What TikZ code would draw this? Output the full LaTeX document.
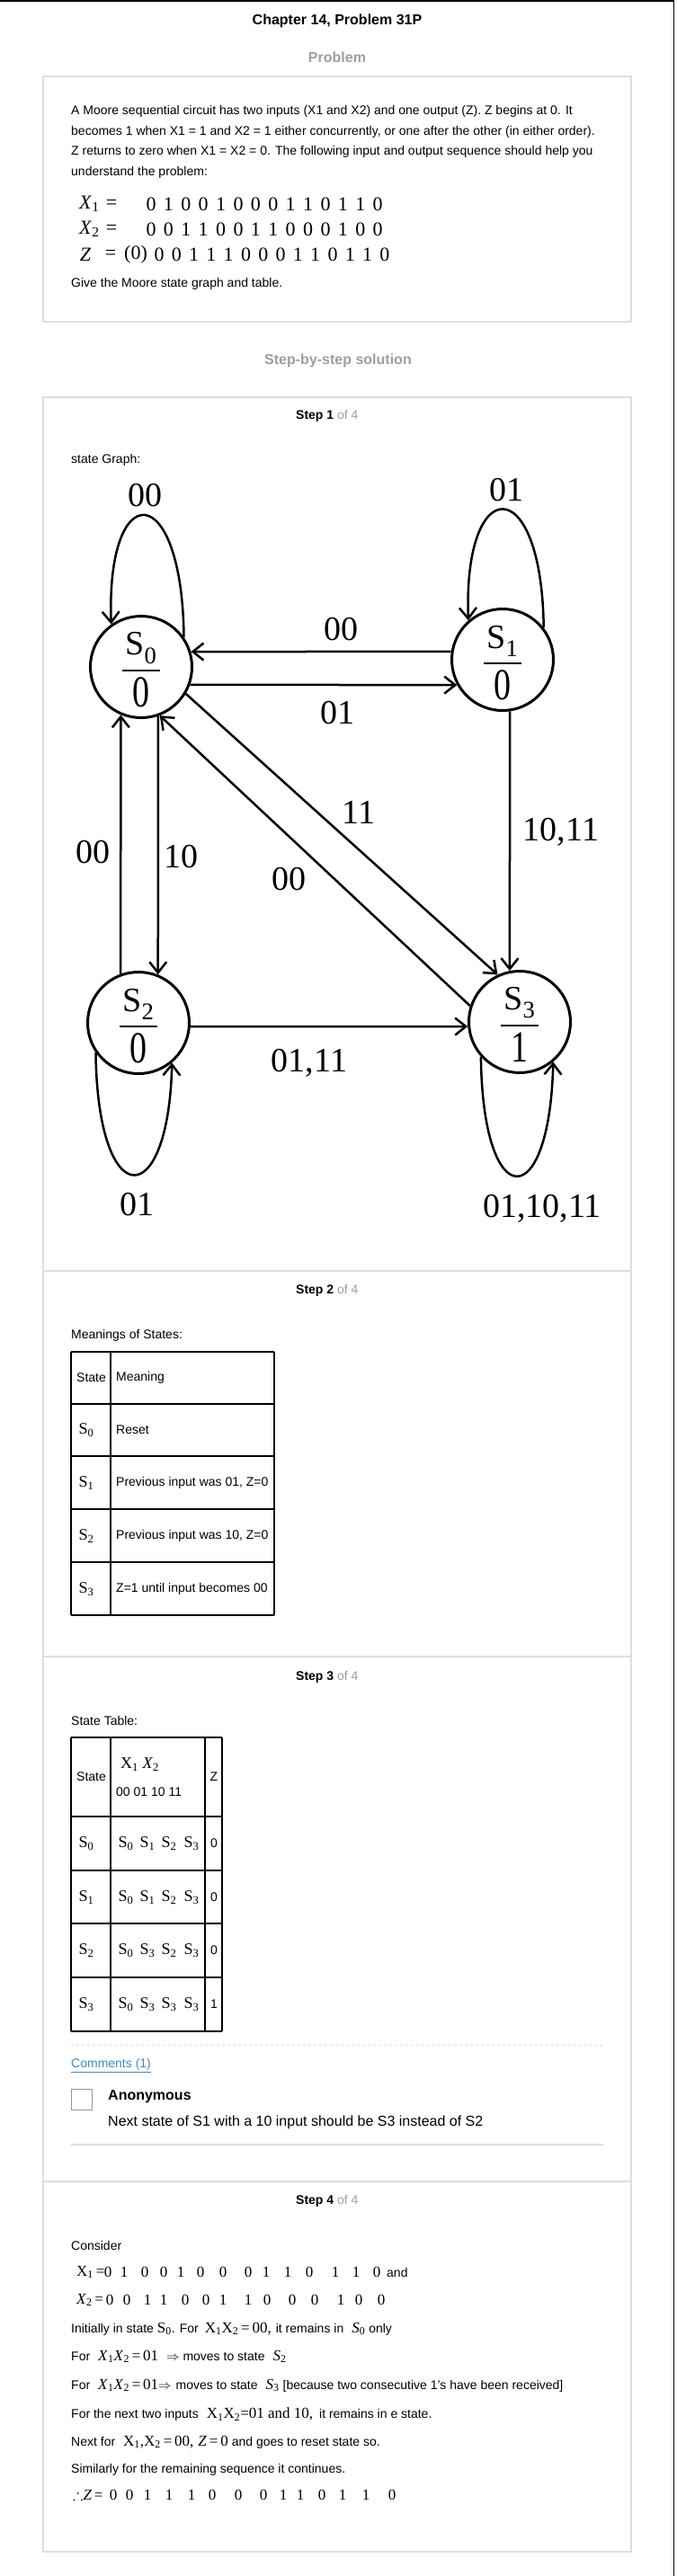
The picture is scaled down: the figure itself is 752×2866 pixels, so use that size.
\documentclass[tikz,border=0pt]{standalone}
\usepackage{amssymb}
\usepackage{graphicx}
\usepackage{fontspec}
\setmainfont{Liberation Sans}
\newfontfamily\serf{Liberation Serif}
\usetikzlibrary{arrows.meta,calc}
\definecolor{ink}{RGB}{0,0,0}
\definecolor{cardgray}{RGB}{222,222,222}
\definecolor{softgray}{RGB}{158,158,158}
\definecolor{boxgray}{RGB}{150,150,150}
\definecolor{linkblue}{RGB}{58,138,192}
\newcommand{\pxsize}[1]{\fontsize{#1}{#1}\selectfont}
\newcommand{\sermath}[1]{{\serf\pxsize{17}#1}}
\newcommand{\tabS}[1]{{\serf\pxsize{18}S\textsubscript{#1}}}
\tikzset{
  card/.style={draw=cardgray,line width=1.3pt},
  txt/.style={font=\pxsize{14},anchor=west,inner sep=0pt},
  hdr/.style={font=\pxsize{16}\bfseries,inner sep=0pt},
  state/.style={circle,draw=ink,line width=3pt,minimum size=113pt,inner sep=0pt},
  lbl/.style={font=\serf\pxsize{38},inner sep=0pt},
  arr/.style={-{Straight Barb[length=12pt,width=19pt]},line width=2.5pt,ink},
  grid/.style={draw=ink,line width=1.3pt},
  dig/.style={font=\serf\pxsize{22},inner sep=0pt},
  sdig/.style={font=\serf\pxsize{17},inner sep=0pt},
}

\begin{document}
\begin{tikzpicture}[x=1pt,y=-1pt]
\useasboundingbox (0,0) rectangle (752,2866);
\draw[line width=1.5pt] (0,0.8) -- (749.3,0.8) -- (749.3,2866);

% problem statement
\node[hdr] (title) at (375,23) {Chapter 14, Problem 31P};
\node[hdr,text=softgray] (probhdr) at (375,64) {Problem};
\draw[card] (48,85) rectangle (702,358);
\node[txt] (p1) at (79,124) {A Moore sequential circuit has two inputs (X1 and X2) and one output (Z). Z begins at 0. It};
\node[txt] (p2) at (79,147) {becomes 1 when X1 = 1 and X2 = 1 either concurrently, or one after the other (in either order).};
\node[txt] (p3) at (79,169) {Z returns to zero when X1 = X2 = 0. The following input and output sequence should help you};
\node[txt] (p4) at (79,192) {understand the problem:};
\node[dig,anchor=west] (x1lbl) at (88,227) {\textit{X}\textsubscript{1}};
\node[dig] (x1eq) at (124,227) {=};
\foreach \d [count=\i from 0] in {0,1,0,0,1,0,0,0,1,1,0,1,1,0}
  \node[dig] (x1d\i) at (168+19.4*\i,227) {\d};
\node[dig,anchor=west] (x2lbl) at (88,255) {\textit{X}\textsubscript{2}};
\node[dig] (x2eq) at (124,255) {=};
\foreach \d [count=\i from 0] in {0,0,1,1,0,0,1,1,0,0,0,1,0,0}
  \node[dig] (x2d\i) at (168+19.4*\i,255) {\d};
\node[dig] (zlbl) at (95,283) {\textit{Z}};
\node[dig] (zeq) at (123,283) {=};
\node[dig] (zinit) at (151,283) {(0)};
\foreach \d [count=\i from 0] in {0,0,1,1,1,0,0,0,1,1,0,1,1,0}
  \node[dig] (zd\i) at (177+19.3*\i,283) {\d};
\node[txt] (p5) at (79,316) {Give the Moore state graph and table.};

\node[hdr,text=softgray] (solhdr) at (376,401) {Step-by-step solution};
\draw[card] (48,442) rectangle (702,2839);
\foreach \yy in {1414,1843,2427} \draw[card] (48,\yy) -- (702,\yy);

% step 1: state graph
\node[txt] (st1) at (329,463) {\textbf{Step 1} \textcolor{softgray}{of 4}};
\node[txt] (gcap) at (79,512) {state Graph:};
\foreach \nm/\cx/\cy/\ix/\out in {s0/157/742/0/0, s1/559/734/1/0, s2/154/1138/2/0, s3/578/1137/3/1}{
  \node[state] (\nm) at (\cx,\cy) {};
  \node[lbl] (\nm-id) at ([yshift=21pt]\nm.center) {S\textsubscript{\ix}};
  \draw[line width=2pt] ([xshift=-21pt,yshift=-4pt]\nm.center) -- ([xshift=21pt,yshift=-4pt]\nm.center);
  \node[lbl] (\nm-z) at ([yshift=-28pt]\nm.center) {\scalebox{1}[1.3]{\out}};
}
\draw[arr] (s0.35) .. controls +(-2,-178) and +(-6,-164) .. (s0.125);
\draw[arr] (s1.38) .. controls +(-2,-175) and +(-6,-165) .. (s1.131);
\draw[arr] (s2.215) .. controls +(2,179) and +(-4,168) .. (s2.310);
\draw[arr] (s3.222) .. controls +(2,176) and +(-4,170) .. (s3.310);
\draw[arr] (s1.171) -- (s0.17);
\draw[arr] (s0.340) -- (s1.209);
\draw[arr] (s0.289) -- (s2.68);
\draw[arr] (s2.110) -- (s0.247);
\draw[arr] (s0.329) -- (s3.115);
\draw[arr] (s3.162) -- (s0.291);
\draw[arr] (s1.278) -- (s3.101);
\draw[arr] (s2.356) -- (s3.185);
\node[lbl] (l00a) at (161,551) {00};
\node[lbl] (l01a) at (563,545) {01};
\node[lbl] (l00b) at (379,700) {00};
\node[lbl] (l01b) at (375,793) {01};
\node[lbl] (l00c) at (103,948) {00};
\node[lbl] (l10) at (201,953) {10};
\node[lbl] (l11) at (399,904) {11};
\node[lbl] (l00d) at (321,978) {00};
\node[lbl] (l1011) at (624,926) {10,11};
\node[lbl] (l0111) at (344,1183) {01,11};
\node[lbl] (l01c) at (152,1340) {01};
\node[lbl] (l011011) at (603,1345) {01,10,11};

% step 2: meanings
\node[txt] (st2) at (329,1436) {\textbf{Step 2} \textcolor{softgray}{of 4}};
\node[txt] (mcap) at (79,1486) {Meanings of States:};
\foreach \yy in {1504,1562,1620,1679,1738,1797} \draw[grid] (79,\yy) -- (305,\yy);
\foreach \xx in {79,123,305} \draw[grid] (\xx,1504) -- (\xx,1797);
\node[txt] (mh1) at (85,1533) {State};
\node[txt] (mh2) at (129,1533) {Meaning};
\foreach \i/\yy/\mtxt in {0/1591/Reset, 1/1650/{Previous input was 01, Z=0}, 2/1709/{Previous input was 10, Z=0}, 3/1768/{Z=1 until input becomes 00}}{
  \node[inner sep=0pt] (ms\i) at (96,\yy) {\tabS{\i}};
  \node[txt] (mt\i) at (129,\yy) {\mtxt};
}

% step 3: state table
\node[txt] (st3) at (329,1866) {\textbf{Step 3} \textcolor{softgray}{of 4}};
\node[txt] (tcap) at (79,1914) {State Table:};
\foreach \yy in {1933,2021,2081,2140,2200,2260} \draw[grid] (79,\yy) -- (247,\yy);
\foreach \xx in {79,123,228,247} \draw[grid] (\xx,1933) -- (\xx,2260);
\node[txt] (th1) at (85,1977) {State};
\node[inner sep=0pt,anchor=west] (th2) at (134,1963) {{\serf\pxsize{18}X\textsubscript{1} \textit{X}\textsubscript{2}}};
\node[txt] (th3) at (129,1994) {00 01 10 11};
\node[inner sep=0pt,font=\pxsize{14}] (th4) at (238,1977) {Z};
\foreach \i/\yy/\na/\nb/\nc/\nd/\zz in {0/2051/0/1/2/3/0, 1/2111/0/1/2/3/0, 2/2170/0/3/2/3/0, 3/2230/0/3/3/3/1}{
  \node[inner sep=0pt] (ts\i) at (96,\yy) {\tabS{\i}};
  \node[inner sep=0pt] (ta\i) at (140,\yy) {\tabS{\na}};
  \node[inner sep=0pt] (tb\i) at (164,\yy) {\tabS{\nb}};
  \node[inner sep=0pt] (tc\i) at (188,\yy) {\tabS{\nc}};
  \node[inner sep=0pt] (td\i) at (213,\yy) {\tabS{\nd}};
  \node[inner sep=0pt,font=\pxsize{14}] (tz\i) at (238,\yy) {\zz};
}

% comments
\draw[cardgray,line width=1pt,dash pattern=on 3pt off 3pt] (79,2275) -- (671,2275);
\node[txt,text=linkblue] (cmt) at (79,2298) {\underline{Comments (1)}};
\draw[boxgray,line width=1pt] (79,2324) rectangle (102,2347);
\node[txt,font=\pxsize{16}\bfseries] (anon) at (120,2333) {Anonymous};
\node[txt,font=\pxsize{16}] (anontxt) at (120,2361) {Next state of S1 with a 10 input should be S3 instead of S2};
\draw[cardgray,line width=1.5pt] (79,2386) -- (671,2386);

% step 4: check of the sequence
\node[txt] (st4) at (329,2449) {\textbf{Step 4} \textcolor{softgray}{of 4}};
\node[txt] (c1) at (79,2498) {Consider};
\node[sdig,anchor=west] (c2l) at (85,2528) {X\textsubscript{1}\,=};
\foreach \xx/\d [count=\i] in {120/0,138/1,161/0,182/0,201/1,223/0,248/0,276/0,296/1,320/1,344/0,373/1,396/1,419/0}
  \node[sdig] (c2d\i) at (\xx,2528) {\d};
\node[txt] (c2and) at (430,2528) {and};
\node[sdig,anchor=west] (c3l) at (85,2559) {\textit{X}\textsubscript{2}\,=};
\foreach \xx/\d [count=\i] in {122/0,141/0,164/1,182/1,206/0,229/0,248/1,276/1,297/0,325/0,350/0,379/1,399/0,424/0}
  \node[sdig] (c3d\i) at (\xx,2559) {\d};
\node[txt] (c4) at (79,2591) {Initially in state \sermath{S\textsubscript{0}}. For\hspace{7pt}\sermath{X\textsubscript{1}X\textsubscript{2}\,=\,00,}\hspace{5pt}it remains in\hspace{9pt}\sermath{\textit{S}\textsubscript{0}}\hspace{4pt}only};
\node[txt] (c5) at (79,2622) {For\hspace{9pt}\sermath{\textit{X}\textsubscript{1}\textit{X}\textsubscript{2}\,=\,01}\hspace{9pt}$\Rightarrow$ moves to state\hspace{9pt}\sermath{\textit{S}\textsubscript{2}}};
\node[txt] (c6) at (79,2654) {For\hspace{9pt}\sermath{\textit{X}\textsubscript{1}\textit{X}\textsubscript{2}\,=\,01}$\Rightarrow$\hspace{5pt}moves to state\hspace{9pt}\sermath{\textit{S}\textsubscript{3}}\hspace{4pt}[because two consecutive 1’s have been received]};
\node[txt] (c7) at (79,2686) {For the next two inputs\hspace{9pt}\sermath{X\textsubscript{1}X\textsubscript{2}=01 and 10,}\hspace{7pt}it remains in e state.};
\node[txt] (c8) at (79,2717) {Next for\hspace{9pt}\sermath{X\textsubscript{1},X\textsubscript{2}\,=\,00,\hspace{5pt}\textit{Z}\,=\,0}\hspace{4pt}and goes to reset state so.};
\node[txt] (c9) at (79,2748) {Similarly for the remaining sequence it continues.};
\node[sdig,anchor=west] (c10l) at (81,2776) {$\therefore$\textit{Z}\,=};
\foreach \xx/\d [count=\i] in {126/0,144/0,164/1,188/1,213/1,236/0,265/0,293/0,315/1,334/1,358/0,381/1,407/1,436/0}
  \node[sdig] (c10d\i) at (\xx,2776) {\d};
\end{tikzpicture}
\end{document}
